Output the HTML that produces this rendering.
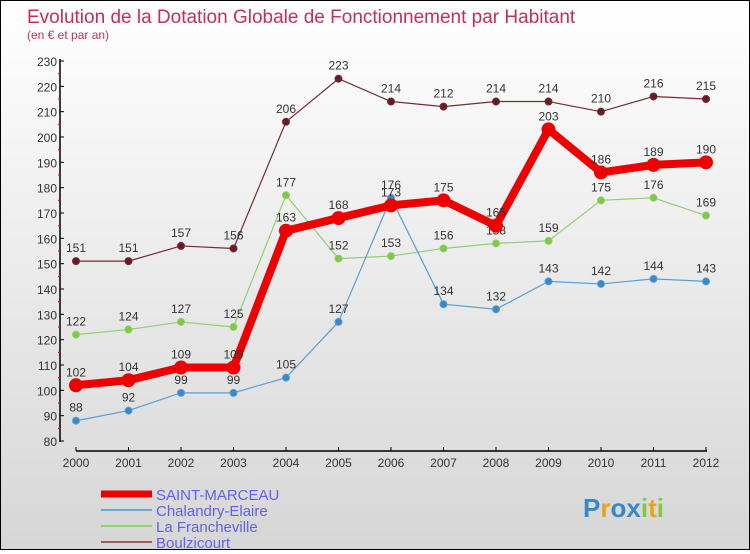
<!DOCTYPE html>
<html><head><meta charset="utf-8"><style>
html,body{margin:0;padding:0}
body{width:750px;height:550px;overflow:hidden;font-family:"Liberation Sans",sans-serif}
#wrap{position:relative;width:748px;height:548px;border:1px solid #000;background:linear-gradient(#ffffff,#d6d6d6)}
</style></head><body>
<div id="wrap">
<svg id="chart" width="748" height="548"></svg>
</div>
<script>
const years=["2000","2001","2002","2003","2004","2005","2006","2007","2008","2009","2010","2011","2012"];
const saintMarceau=[102,104,109,109,163,168,173,175,165,203,186,189,190];
const chalandry=[88,92,99,99,105,127,176,134,132,143,142,144,143];
const francheville=[122,124,127,125,177,152,153,156,158,159,175,176,169];
const boulzicourt=[151,151,157,156,206,223,214,212,214,214,210,216,215];
const yTicks=[80,90,100,110,120,130,140,150,160,170,180,190,200,210,220,230];
const NS="http://www.w3.org/2000/svg";
const svg=document.getElementById('chart');
function X(i){return 75+i*52.5;}
function Y(v){return 440-(v-80)*380/150;}
function el(tag,attrs,parent){const e=document.createElementNS(NS,tag);for(const k in attrs)e.setAttribute(k,attrs[k]);(parent||svg).appendChild(e);return e;}
function txt(x,y,s,attrs){const t=el('text',Object.assign({x:x,y:y},attrs));t.textContent=s;return t;}
let t=txt(26,22,"Evolution de la Dotation Globale de Fonctionnement par Habitant",{'font-size':19,fill:'#c0305a'});

t=txt(26,38,"(en € et par an)",{'font-size':12,fill:'#c0305a'});

// axes
let a=el('line',{x1:59,y1:58,x2:59,y2:441,stroke:'#000','stroke-width':1.5});

a=el('line',{x1:75,y1:450,x2:706,y2:450,stroke:'#000','stroke-width':1.5});

yTicks.forEach((v,i)=>{
 el('line',{x1:59,y1:Y(v),x2:63,y2:Y(v),stroke:'#000'});
 if(i<yTicks.length-1) el('line',{x1:57,y1:Y(v+5),x2:60,y2:Y(v+5),stroke:'#e00'});
 const l=txt(56,Y(v)+5,String(v),{'font-size':12,fill:'#333','text-anchor':'end'});
 
});
years.forEach((y,i)=>{
 el('line',{x1:X(i),y1:446,x2:X(i),y2:450,stroke:'#000'});
 const l=txt(X(i),466,y,{'font-size':12,fill:'#333','text-anchor':'middle'});
 
});
function series(data,color,w,r,name,fill,labels){
 const g=el('g',{});
 
 el('polyline',{points:data.map((v,i)=>X(i)+','+Y(v)).join(' '),fill:'none',stroke:color,'stroke-width':w,'stroke-linejoin':'round'},g);
 data.forEach((v,i)=>{
  const c=el('circle',{cx:X(i),cy:Y(v),r:r,fill:fill,stroke:color,'stroke-width':1},g);
  
  if(labels){const l=txt(X(i),Y(v)-9,String(v),{'font-size':12,fill:'#333','text-anchor':'middle'},g);}
 });
}
series(boulzicourt,'#7a2a32',1.2,3.5,'series-boulzicourt','#6a1a22',true);
series(francheville,'#90d070',1.2,3.5,'series-la-francheville','#80c840',true);
series(chalandry,'#5a9fd0',1.2,3.5,'series-chalandry-elaire','#3a88c8',true);
series(saintMarceau,'#ee0000',8,6.5,'series-saint-marceau','#ee0000',true);
// legend
const leg=[["SAINT-MARCEAU",'#ee0000',7],["Chalandry-Elaire",'#6aa8d0',2],["La Francheville",'#90d070',2],["Boulzicourt",'#9a6060',2]];
leg.forEach((e,i)=>{
 const g=el('g',{});
 
 const y=493+i*16;
 el('line',{x1:100,y1:y,x2:151,y2:y,stroke:e[1],'stroke-width':e[2]},g);
 txt(155,y+6,e[0],{'font-size':15,fill:'#6060ee'},g);
});
const lg=txt(582,516,"",{'font-size':26,'font-weight':'bold'});

[["P",'#3a88c8'],["r",'#f0a020'],["o",'#3a88c8'],["x",'#3a88c8'],["i",'#80c840'],["t",'#f0a020'],["i",'#80c840']].forEach(p=>{const s=el('tspan',{fill:p[1]},lg);s.textContent=p[0];});
</script>
</body></html>
